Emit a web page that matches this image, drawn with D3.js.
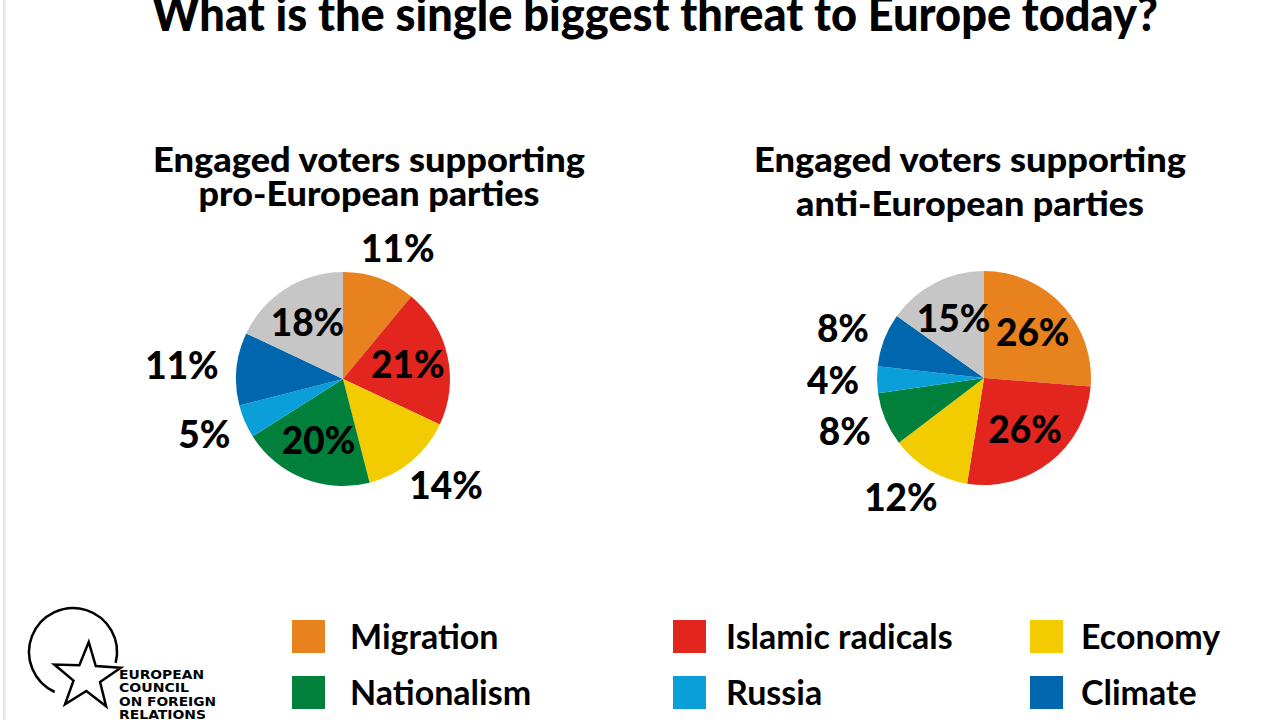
<!DOCTYPE html>
<html>
<head>
<meta charset="utf-8">
<script src="https://cdn.jsdelivr.net/npm/d3@7"></script>
<style>
  body { margin: 0; background: #fff; }
  svg { display: block; }
  text { font-family: Lato, "Noto Sans", sans-serif; font-weight: 700; fill: #000; }
</style>
</head>
<body>
<svg width="1280" height="720"></svg>
<script>
// Data
const title = "What is the single biggest threat to Europe today?";
const categories = ["Migration", "Islamic radicals", "Economy", "Nationalism", "Russia", "Climate", "Other"];
const proEuropean = [11, 21, 14, 20, 5, 11, 18];
const antiEuropean = [26, 26, 12, 8, 4, 8, 15];
const proTitle = ["Engaged voters supporting", "pro-European parties"];
const antiTitle = ["Engaged voters supporting", "anti-European parties"];
const colors = ["#e8821e", "#e2261f", "#f2cc00", "#00803a", "#0b9fd9", "#0066ad", "#c6c6c6"];
const legendColumns = [["Migration", "Nationalism"], ["Islamic radicals", "Russia"], ["Economy", "Climate"]];
const logoLines = ["EUROPEAN", "COUNCIL", "ON FOREIGN", "RELATIONS"];

const svg = d3.select("svg");
const color = d3.scaleOrdinal().domain(categories).range(colors);

// thin grey border on the left
svg.append("rect")
    .attr("x", 3).attr("y", 0)
    .attr("width", 2.5).attr("height", 720)
    .attr("fill", "#e6e6e6");

// Title (top is clipped by the frame, as in the original)
svg.append("text")
    .attr("x", 152)
    .attr("y", 31)
    .attr("textLength", 1006)
    .attr("lengthAdjust", "spacingAndGlyphs")
    .style("font-size", "47px")
    .style("font-weight", 900)
    .text(title);

// Pies
const radius = 107;
const pie = d3.pie().sort(null).value(d => d);
const arc = d3.arc().innerRadius(0).outerRadius(radius);
const innerLabelArc = d3.arc().innerRadius(radius * 0.62).outerRadius(radius * 0.62);

const panels = [
    { values: proEuropean, lines: proTitle, cx: 343, cy: 379, tx: 369, ty: [172, 206], widths: [432, 341] },
    { values: antiEuropean, lines: antiTitle, cx: 984, cy: 378, tx: 970, ty: [172, 216], widths: [432, 348] }
];

panels.forEach(p => {
    // subtitle
    p.lines.forEach((line, i) => {
        svg.append("text")
            .attr("x", p.tx - p.widths[i] / 2)
            .attr("y", p.ty[i])
            .attr("textLength", p.widths[i])
            .attr("lengthAdjust", "spacingAndGlyphs")
            .style("font-size", "34px")
            .style("font-weight", 900)
            .text(line);
    });

    const g = svg.append("g").attr("transform", `translate(${p.cx},${p.cy})`);
    const slices = pie(p.values);

    g.selectAll("path")
        .data(slices)
        .enter()
        .append("path")
        .attr("d", arc)
        .attr("fill", (d, i) => color(categories[i]));

    // labels: big slices inside, small ones outside
    slices.forEach(d => {
        const label = g.append("text")
            .attr("text-anchor", "middle")
            .attr("dy", "0.36em")
            .style("font-size", "37px")
            .style("font-weight", 900)
            .text(d.value + "%");
        const mid = (d.startAngle + d.endAngle) / 2;
        let x, y;
        if (d.value >= 15) {
            [x, y] = innerLabelArc.centroid(d);
        } else {
            const box = label.node().getBBox();
            const r = radius + 18;
            x = Math.sin(mid) * r + Math.sin(mid) * box.width / 2;
            y = -Math.cos(mid) * r - Math.cos(mid) * 14;
        }
        label.attr("x", x).attr("y", y);
    });
});

// Legend
const legendX = [292, 673, 1030];
const legendY = [620, 676];
const legendTextOffset = [58, 53, 51];
legendColumns.forEach((col, ci) => {
    col.forEach((name, ri) => {
        const lg = svg.append("g")
            .attr("transform", `translate(${legendX[ci]},${legendY[ri]})`);
        lg.append("rect")
            .attr("width", 33).attr("height", 33)
            .attr("fill", color(name));
        lg.append("text")
            .attr("x", legendTextOffset[ci])
            .attr("y", 16.5)
            .attr("dy", "0.36em")
            .style("font-size", "34px")
            .text(name);
    });
});

// Logo
const logo = svg.append("g");
const ring = d3.path();
ring.arc(73, 652, 44, 0.25, 2.0, true);
logo.append("path")
    .attr("d", ring.toString())
    .attr("fill", "none")
    .attr("stroke", "#000")
    .attr("stroke-width", 2.5);

const starPts = d3.range(10).map(i => [i * Math.PI / 5 + 0.05, i % 2 === 0 ? 35 : 14]);
logo.append("path")
    .attr("transform", "translate(87,677)")
    .attr("d", d3.lineRadial().curve(d3.curveLinearClosed)(starPts))
    .attr("fill", "#fff")
    .attr("stroke", "#000")
    .attr("stroke-width", 2.5)
    .attr("stroke-linejoin", "miter");

const logoWidths = [85, 70, 97, 87];
logoLines.forEach((line, i) => {
    logo.append("text")
        .attr("x", 119)
        .attr("y", 679 + i * 13.3)
        .attr("textLength", logoWidths[i])
        .attr("lengthAdjust", "spacingAndGlyphs")
        .style("font-family", "'Liberation Sans Narrow', 'DejaVu Sans Condensed', sans-serif")
        .style("font-size", "13px")
        .text(line);
});
</script>
</body>
</html>
